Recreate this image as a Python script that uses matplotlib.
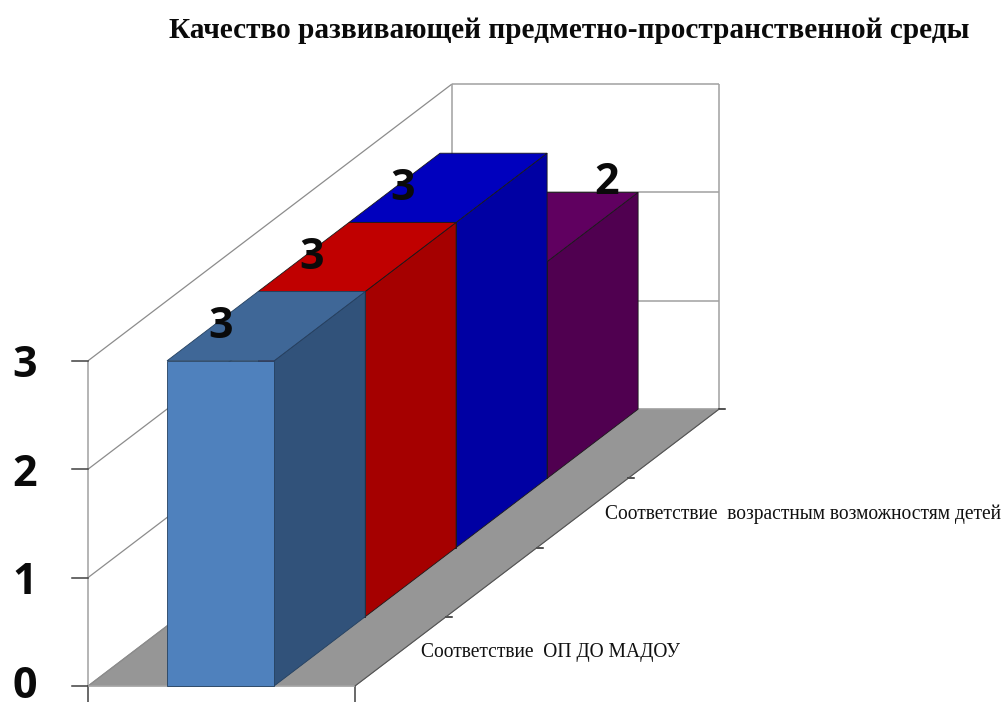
"""3D-style bar chart drawn with an oblique projection on a flat matplotlib axes."""

import matplotlib
matplotlib.use("Agg")
import matplotlib.pyplot as plt
from matplotlib.patches import Polygon

TITLE = "Качество развивающей предметно-пространственной среды"
values = [3, 3, 3, 2]
y_ticks = [0, 1, 2, 3]
front_colors = ["#4F81BD", "#C00000", "#0000C0", "#600060"]
top_colors = ["#3F6797", "#C00000", "#0000BE", "#600060"]
side_colors = ["#31527A", "#A50000", "#0000A3", "#500050"]
depth_labels = ["Соответствие  ОП ДО МАДОУ", "Соответствие  возрастным возможностям детей"]
depth_label_pos = [(421, 653), (605, 514)]

# projection, in pixels
ORIGIN = (88, 686)
WIDTH = 267
DEPTH_X, DEPTH_Y = 91, -69.2
UNIT = 108.4
N_DEPTH = len(values)
BAR_LEFT, BAR_RIGHT = 0.296, 0.697
WALL = "#A0A0A0"


def project(x, d, v):
    """x across (0-1), d depth (series slots), v value."""
    return (ORIGIN[0] + x * WIDTH + d * DEPTH_X, ORIGIN[1] + d * DEPTH_Y - v * UNIT)


def face(ax, points, color, edge="#1C2A3A", zorder=3):
    ax.add_patch(Polygon([project(*p) for p in points], closed=True, facecolor=color,
                         edgecolor=edge, linewidth=0.6, zorder=zorder))


def line(ax, a, b, color=WALL, lw=1.1, zorder=1):
    ax.plot(*zip(project(*a), project(*b)), color=color, lw=lw, zorder=zorder,
            solid_capstyle="butt")


fig = plt.figure(figsize=(10.05, 7.02), dpi=100)
ax = fig.add_axes([0, 0, 1, 1])
ax.set_xlim(0, 1005)
ax.set_ylim(702, 0)
ax.axis("off")

# floor
top = max(y_ticks)
face(ax, [(0, 0, 0), (1, 0, 0), (1, N_DEPTH, 0), (0, N_DEPTH, 0)], "#969696", edge="#808080", zorder=1)

# walls and grid
for v in y_ticks:
    line(ax, (0, 0, v), (0, N_DEPTH, v), color="#8C8C8C", lw=0.9)
    line(ax, (0, N_DEPTH, v), (1, N_DEPTH, v))
line(ax, (0, 0, 0), (0, 0, top))
line(ax, (0, N_DEPTH, 0), (0, N_DEPTH, top))
line(ax, (1, N_DEPTH, 0), (1, N_DEPTH, top))

# ticks
for v in y_ticks:
    x0, y0 = project(0, 0, v)
    ax.plot([x0 - 16, x0], [y0, y0], color="#404040", lw=1.1, zorder=2)
    ax.text(25, y0 + 5 if v else y0 + 1, str(v), ha="center", va="center", fontsize=31,
            family="Open Sans", fontweight="bold", color="#0A0A0A")
for x in (0, 1):
    x0, y0 = project(x, 0, 0)
    ax.plot([x0, x0], [y0, y0 + 16], color="#404040", lw=1.1, zorder=2)
line(ax, (0, 0, 0), (1, 0, 0), color="#A8A8A8", zorder=2)
for d in range(1, N_DEPTH + 1):
    x0, y0 = project(1, d, 0)
    ax.plot([x0, x0 + 6], [y0, y0], color="#222222", lw=1.1, zorder=2)
line(ax, (1, 0, 0), (1, N_DEPTH, 0), color="#555555", lw=0.8, zorder=2)

# bars, back to front
for i in reversed(range(len(values))):
    v = values[i]
    l, r = BAR_LEFT, BAR_RIGHT
    z = 3 + (len(values) - i) * 0.1
    edge = "#1A1A1A" if i else "#24405F"
    face(ax, [(r, i, 0), (r, i + 1, 0), (r, i + 1, v), (r, i, v)], side_colors[i], edge=edge, zorder=z)
    face(ax, [(l, i, v), (r, i, v), (r, i + 1, v), (l, i + 1, v)], top_colors[i], edge=edge, zorder=z)
    face(ax, [(l, i, 0), (r, i, 0), (r, i, v), (l, i, v)], front_colors[i], edge=edge, zorder=z)

# value labels: above the front top edge, the last one sits behind the blue bar
mid = (BAR_LEFT + BAR_RIGHT) / 2
for i, v in enumerate(values):
    if i < len(values) - 1:
        x0, y0 = project(mid, i, v)
        x0, y0 = x0, y0 - 34
    else:
        x0, y0 = project(mid, i + 1, v)
        x0, y0 = x0 + 22, y0 - 10
    ax.text(x0, y0, str(v), ha="center", va="center", fontsize=31,
            family="Open Sans", fontweight="bold", color="#0A0A0A", zorder=10)

for label, (x, y) in zip(depth_labels, depth_label_pos):
    ax.text(x, y, label, ha="left", va="center", fontsize=14.05,
            family="Liberation Serif", color="#111111", zorder=10)

ax.text(569, 31, TITLE, ha="center", va="center", fontsize=21.1,
        family="Liberation Serif", fontweight="bold", color="#0A0A0A")

fig.savefig("out.png", dpi=100)
